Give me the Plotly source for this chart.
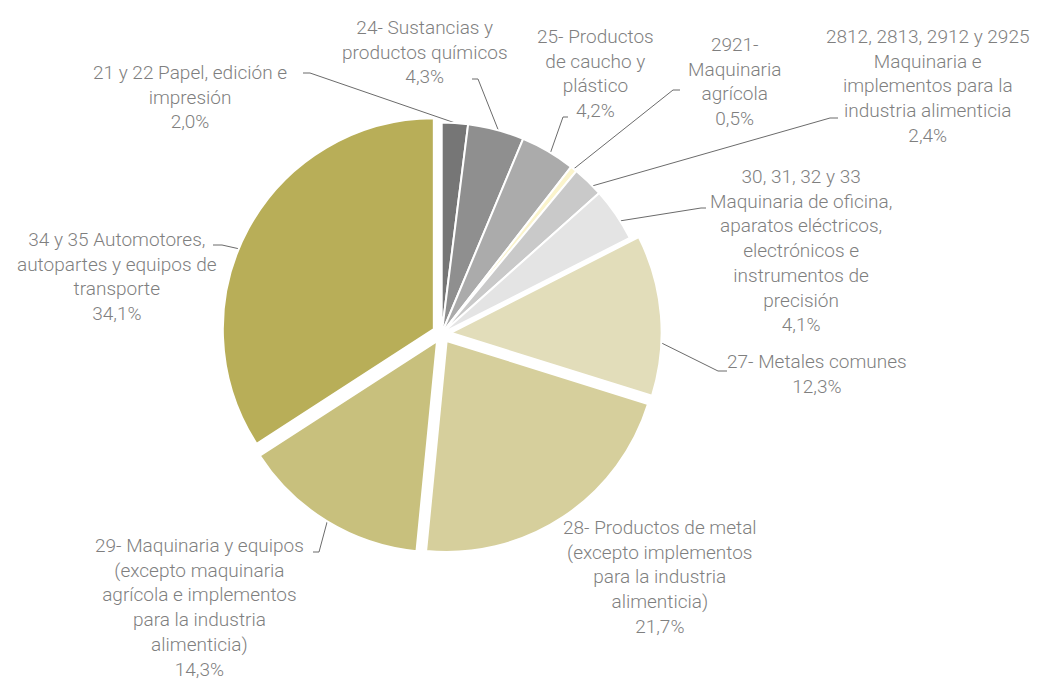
import math
import plotly.graph_objects as go

# ---------------- data ----------------
categories = [
    "21 y 22 Papel, edición e<br>impresión",
    "24- Sustancias y<br>productos químicos",
    "25- Productos<br>de caucho y<br>plástico",
    "2921-<br>Maquinaria<br>agrícola",
    "2812, 2813, 2912 y 2925<br>Maquinaria e<br>implementos para la<br>industria alimenticia",
    "30, 31, 32 y 33<br>Maquinaria de oficina,<br>aparatos eléctricos,<br>electrónicos e<br>instrumentos de<br>precisión",
    "27- Metales comunes",
    "28- Productos de metal<br>(excepto implementos<br>para la industria<br>alimenticia)",
    "29- Maquinaria y equipos<br>(excepto maquinaria<br>agrícola e implementos<br>para la industria<br>alimenticia)",
    "34 y 35 Automotores,<br>autopartes y equipos de<br>transporte",
]
values = [2.0, 4.3, 4.2, 0.5, 2.4, 4.1, 12.3, 21.7, 14.3, 34.1]

# ---------------- style / layout ----------------
W, H = 1046, 680
colors = ["#767676", "#8f8f8f", "#ababab", "#fbf4cc", "#c9c9c9", "#e4e4e4",
          "#e2ddba", "#d6cf9c", "#c8c07d", "#b8ae58"]
pulls = [0, 0, 0, 0, 0, 0, 0.0425, 0.0425, 0.0425, 0.0425]
CX, CY, R = 441.7, 333.5, 211.0          # pie centre / radius in pixels
maxpull = max(pulls)
half = R * (1 + maxpull)

# label block centres (pixels) and leader-line description
label_pos = [(190, 97), (425, 52), (595, 73), (734, 81), (927, 86),
             (801, 250), (817, 374), (660, 577), (199, 607), (117, 276)]
# (label end x, y, elbow x, fraction along slice) ; None = no leader
leaders = [(303, 73, 310, 0.5), (472, 79, 478, 0.54), (568, 117, 563, 0.55),
           (680, 90, 673, 0.5), (838, 118, 830, 0.69), (706, 208, 701, 0.64),
           (727, 371, 718, 0.67), None, (313, 552, 319, 0.5), (213, 245, 222, 0.45)]

TEXT = "#7f7f7f"
FONT = dict(family="Roboto, 'Open Sans', sans-serif", size=19, color=TEXT, weight=300)

fig = go.Figure()
fig.add_trace(go.Pie(
    values=values, labels=[c.replace("<br>", " ") for c in categories],
    sort=False, direction="clockwise", rotation=0,
    marker=dict(colors=colors, line=dict(color="white", width=2)),
    pull=pulls, textinfo="none", hoverinfo="label+percent", showlegend=False,
    domain=dict(x=[(CX - half) / W, (CX + half) / W],
                y=[(H - CY - half) / H, (H - CY + half) / H]),
))

total = sum(values)
cum = 0.0
for i, v in enumerate(values):
    a0 = cum / total * 360
    a1 = (cum + v) / total * 360
    cum += v
    mid = math.radians((a0 + a1) / 2)
    # slice centre after pull
    sx = CX + pulls[i] * R * math.sin(mid)
    sy = CY - pulls[i] * R * math.cos(mid)
    pct = f"{v:.1f}".replace(".", ",") + "%"
    lx, ly = label_pos[i]
    fig.add_annotation(x=lx, y=ly, xref="x", yref="y", text=categories[i] + "<br>" + pct,
                       showarrow=False, xanchor="center", yanchor="middle",
                       align="center", font=FONT)
    if leaders[i] is not None:
        ex, ey, kx, frac = leaders[i]
        ang = math.radians(a0 + frac * (a1 - a0))
        px = sx + R * math.sin(ang)
        py = sy - R * math.cos(ang)
        fig.add_trace(go.Scatter(x=[ex, kx, px], y=[ey, ey, py], mode="lines",
                                 line=dict(color="#6b6b6b", width=1),
                                 hoverinfo="skip", showlegend=False))

fig.update_layout(
    width=W, height=H, margin=dict(l=0, r=0, t=0, b=0),
    paper_bgcolor="white", plot_bgcolor="rgba(0,0,0,0)",
    xaxis=dict(range=[0, W], visible=False, fixedrange=True),
    yaxis=dict(range=[H, 0], visible=False, fixedrange=True),
)
fig.write_html("out.html", config={"displayModeBar": False},
               post_script="document.body.style.margin='0';document.body.style.overflow='hidden';")
